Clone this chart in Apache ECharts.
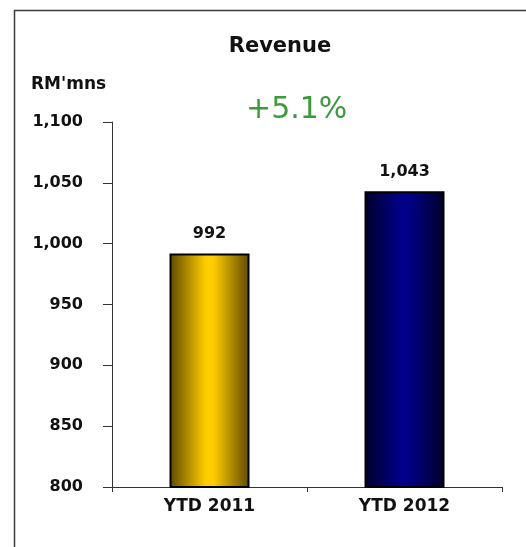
<!DOCTYPE html>
<html>
<head>
<meta charset="utf-8">
<script src="https://cdn.jsdelivr.net/npm/echarts@6/dist/echarts.min.js"></script>
<style>
  html, body { margin: 0; padding: 0; background: #fff; }
  #chart { width: 526px; height: 547px; }
</style>
</head>
<body>
<div id="chart"></div>
<script>
// Revenue by period, RM millions
const categories = ['YTD 2011', 'YTD 2012'];
const revenue = [992, 1043];
const growthText = '+5.1%';
const unitText = "RM'mns";

const FONT = '"DejaVu Sans", Verdana, sans-serif';

function barGradient(edge, mid) {
  return new echarts.graphic.LinearGradient(0, 0, 1, 0, [
    { offset: 0, color: edge },
    { offset: 0.45, color: mid },
    { offset: 0.55, color: mid },
    { offset: 1, color: edge }
  ]);
}
const fills = [
  barGradient('#5e4900', '#ffcc00'),
  barGradient('#00002a', '#000088')
];

const chart = echarts.init(document.getElementById('chart'));
chart.setOption({
  animation: false,
  backgroundColor: '#fff',
  title: {
    text: 'Revenue',
    left: 275, top: 31, textAlign: 'center',
    textStyle: { fontFamily: FONT, fontSize: 21, fontWeight: 'bold', color: '#111' }
  },
  graphic: [
    {
      type: 'rect', left: 12, top: 8,
      shape: { width: 530, height: 560 },
      style: { fill: 'none', stroke: '#3a3a3a', lineWidth: 1.5 },
      z: -1
    },
    {
      type: 'text', left: 31, top: 76,
      style: { text: unitText, font: 'bold 17px ' + FONT, fill: '#111' }
    },
    {
      type: 'text', left: 246, top: 95,
      style: { text: growthText, font: '30px ' + FONT, fill: '#3c9a3c' }
    }
  ],
  grid: { left: 112, right: 24, top: 122, bottom: 60 },
  xAxis: {
    type: 'category',
    data: categories,
    axisLine: { lineStyle: { color: '#333', width: 1 } },
    axisTick: { show: true, length: 5, lineStyle: { color: '#333' } },
    axisLabel: { fontFamily: FONT, fontSize: 17, fontWeight: 'bold', color: '#111', margin: 11 }
  },
  yAxis: {
    type: 'value',
    min: 800, max: 1100, interval: 50,
    splitLine: { show: false },
    axisLine: { show: true, lineStyle: { color: '#333', width: 1 } },
    axisTick: { show: true, length: 9, lineStyle: { color: '#333' } },
    axisLabel: {
      fontFamily: FONT, fontSize: 16, fontWeight: 'bold', color: '#111', margin: 29,
      formatter: v => v.toLocaleString('en-US')
    }
  },
  series: [{
    type: 'bar',
    barWidth: 80,
    data: revenue.map((v, i) => ({
      value: v,
      itemStyle: { color: fills[i], borderColor: '#000', borderWidth: 2 }
    })),
    label: {
      show: true, position: 'top', distance: 12,
      fontFamily: FONT, fontSize: 16, fontWeight: 'bold', color: '#111',
      formatter: p => p.value.toLocaleString('en-US')
    }
  }]
});
</script>
</body>
</html>
